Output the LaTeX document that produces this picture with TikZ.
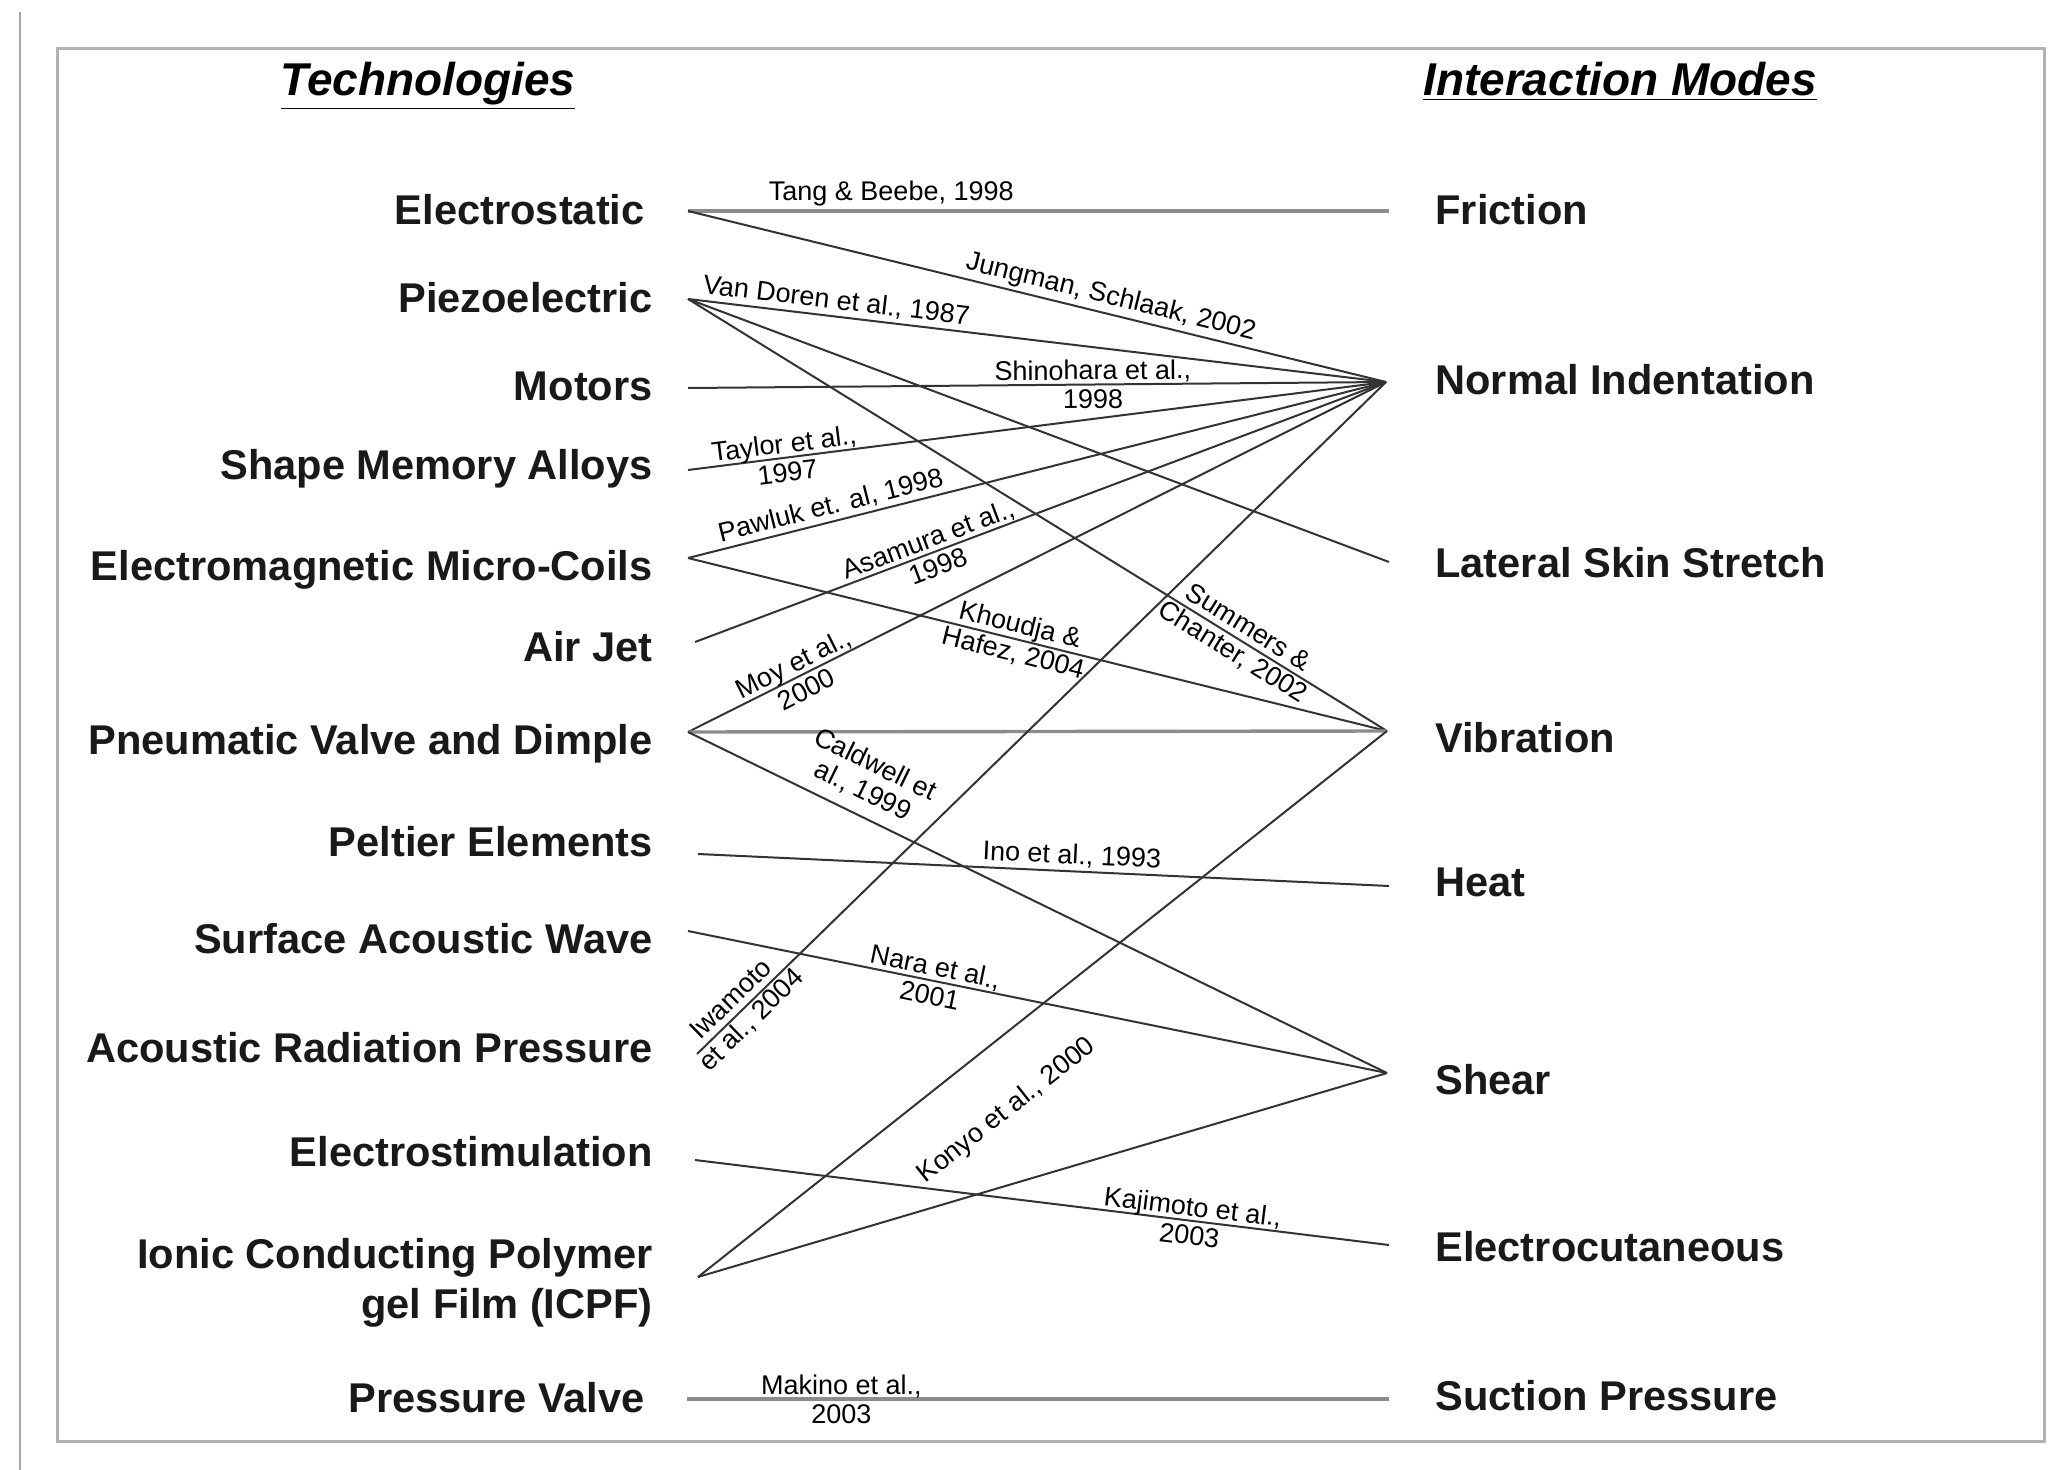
\documentclass[tikz,border=0pt]{standalone}
\usepackage{fontspec}
\setmainfont{Liberation Sans}
\begin{document}
\begin{tikzpicture}[x=0.5pt,y=-0.5pt,
  tech/.style={anchor=base east, font=\fontsize{20.8}{25}\selectfont\bfseries, inner sep=0pt, text=black!90},
  mode/.style={anchor=base west, font=\fontsize{20.8}{25}\selectfont\bfseries, inner sep=0pt, text=black!90},
  ttl/.style={anchor=base, font=\fontsize{23}{28}\selectfont\bfseries\itshape, inner sep=0pt},
  cite/.style={font=\fontsize{13.5}{14.5}\selectfont, inner sep=1.5pt, align=center, text=black},
  link/.style={draw=black!80, line width=1pt},
  hlink/.style={draw=black!45, line width=1.7pt},
]
\useasboundingbox (0,0) rectangle (2064,1470);
\fill[white] (0,0) rectangle (2064,1470);
% page edge and frame
\draw[black!35, line width=1.2pt] (20,12) -- (20,1470);
\draw[black!30, line width=1.5pt] (57,49) rectangle (2044,1441);

% titles
\node[ttl] (t1) at (428,96) {\underline{Technologies}};
\node[ttl] (t2) at (1620,96) {\underline{Interaction Modes}};

% technologies
\node[tech] (es)  at (645,225)  {Electrostatic};
\node[tech] (pz)  at (653,313)  {Piezoelectric};
\node[tech] (mo)  at (653,401)  {Motors};
\node[tech] (sma) at (653,480)  {Shape Memory Alloys};
\node[tech] (em)  at (653,580)  {Electromagnetic Micro-Coils};
\node[tech] (aj)  at (653,661)  {Air Jet};
\node[tech] (pn)  at (653,754)  {Pneumatic Valve and Dimple};
\node[tech] (pe)  at (653,856)  {Peltier Elements};
\node[tech] (saw) at (653,953)  {Surface Acoustic Wave};
\node[tech] (arp) at (653,1062) {Acoustic Radiation Pressure};
\node[tech] (est) at (653,1166) {Electrostimulation};
\node[tech] (icpf) at (653,1268) {Ionic Conducting Polymer};
\node[tech] (icpfb) at (653,1318) {gel Film (ICPF)};
\node[tech] (pv)  at (645,1412) {Pressure Valve};

% interaction modes
\node[mode] (fr) at (1435,225)  {Friction};
\node[mode] (ni) at (1435,395)  {Normal Indentation};
\node[mode] (ls) at (1435,577)  {Lateral Skin Stretch};
\node[mode] (vi) at (1435,752)  {Vibration};
\node[mode] (he) at (1435,896)  {Heat};
\node[mode] (sh) at (1435,1094) {Shear};
\node[mode] (ec) at (1435,1261) {Electrocutaneous};
\node[mode] (sp) at (1435,1410) {Suction Pressure};

% ports
\coordinate (Pes)  at (688,211);
\coordinate (Ppz)  at (688,299);
\coordinate (Pmo)  at (688,388);
\coordinate (Psma) at (688,470);
\coordinate (Pem)  at (688,558);
\coordinate (Paj)  at (695,642);
\coordinate (Ppn)  at (688,732);
\coordinate (Ppe)  at (698,854);
\coordinate (Psaw) at (688,931);
\coordinate (Parp) at (697,1054);
\coordinate (Pest) at (695,1160);
\coordinate (Picpf) at (698,1277);
\coordinate (Ppv)  at (687,1399);

\coordinate (Qfr) at (1389,211);
\coordinate (Qni) at (1386,382);
\coordinate (Qls) at (1389,562);
\coordinate (Qvi) at (1387,731);
\coordinate (Qhe) at (1389,886);
\coordinate (Qsh) at (1387,1073);
\coordinate (Qec) at (1389,1245);
\coordinate (Qsp) at (1389,1399);

% connectors
\draw[hlink] (Pes) -- node[cite, pos=.29, above] {Tang \& Beebe, 1998} (Qfr);
\draw[link] (Pes) -- node[cite, pos=.60, above, sloped] {Jungman, Schlaak, 2002} (Qni);
\draw[link] (Ppz) -- node[cite, pos=.21, above, sloped] {Van Doren et al., 1987} (Qni);
\draw[link] (Ppz) -- (Qls);
\draw[link] (Ppz) -- node[cite, pos=.79, sloped] {Summers \&\\Chanter, 2002} (Qvi);
\draw[link] (Pmo) -- node[cite, pos=.58, sloped] {Shinohara et al.,\\1998} (Qni);
\draw[link] (Psma) -- node[cite, pos=.14, sloped] {Taylor et al.,\\1997} (Qni);
\draw[link] (Pem) -- node[cite, pos=.21, above, sloped] {Pawluk et. al, 1998} (Qni);
\draw[link] (Pem) -- node[cite, pos=.47, sloped] {Khoudja \&\\Hafez, 2004} (Qvi);
\draw[link] (Paj) -- node[cite, pos=.345, sloped] {Asamura et al.,\\1998} (Qni);
\draw[link] (Ppn) -- node[cite, pos=.16, sloped] {Moy et al.,\\2000} (Qni);
\draw[hlink] (Ppn) -- (Qvi);
\draw[link] (Ppn) -- node[cite, pos=.235, above=4pt, sloped] {Caldwell et\\al., 1999} (Qsh);
\draw[link] (Ppe) -- node[cite, pos=.54, above, sloped] {Ino et al., 1993} (Qhe);
\draw[link] (Psaw) -- node[cite, pos=.35, sloped] {Nara et al.,\\2001} (Qsh);
\draw[link] (Parp) -- node[cite, pos=.065, sloped] {Iwamoto\\et al., 2004} (Qni);
\draw[link] (Pest) -- node[cite, pos=.715, sloped] {Kajimoto et al.,\\2003} (Qec);
\draw[link] (Picpf) -- (Qvi);
\draw[link] (Picpf) -- (Qsh);
\draw[hlink] (Ppv) -- node[cite, pos=.22] {Makino et al.,\\2003} (Qsp);
\node[cite, rotate=38.3] (konyo) at (1007,1111) {Konyo et al., 2000};
\end{tikzpicture}
\end{document}
